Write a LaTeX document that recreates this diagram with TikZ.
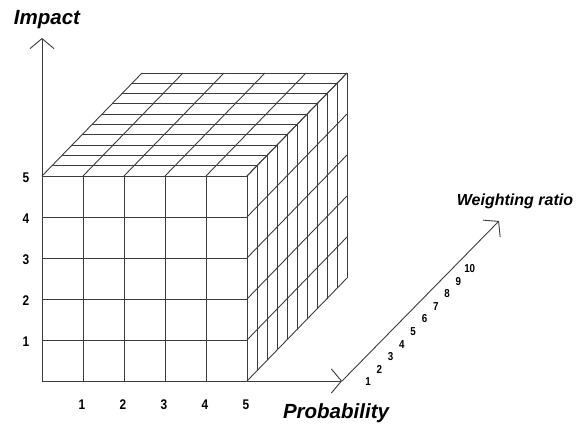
\documentclass[tikz,border=0pt]{standalone}
\usepackage{fontspec}
\usetikzlibrary{arrows.meta}
\newfontfamily\axisfont{Liberation Sans}
\newfontfamily\tickfont{Liberation Sans}[FakeStretch=0.85]
\definecolor{gridgray}{RGB}{60,60,60}
\tikzset{
  grid line/.style={draw=gridgray, line width=0.9pt},
  axis/.style={draw=gridgray, line width=0.9pt, -{Straight Barb[length=10pt,width=24pt,line width=0.9pt]}},
  axis label/.style={font=\axisfont\bfseries\itshape\fontsize{20.5}{20.5}\selectfont, inner sep=0pt},
  tick/.style={font=\tickfont\bfseries\fontsize{14}{14}\selectfont, inner sep=0pt},
  depth tick/.style={font=\tickfont\bfseries\fontsize{11.5}{11.5}\selectfont, inner sep=0pt}
}

\begin{document}
\begin{tikzpicture}[x=1pt, y=-1pt]
  \useasboundingbox (0,0) rectangle (576,425);
  % front face
  \foreach \i in {0,...,5} {
    \draw[grid line] (42+41*\i,176) -- (42+41*\i,381);
    \draw[grid line] (42,176+41*\i) -- (247,176+41*\i);
  }
  % top face
  \foreach \i in {0,...,5}
    \draw[grid line] (42+41*\i,176) -- (142+41*\i,73);
  \foreach \j in {0,...,10}
    \draw[grid line] (42+10*\j,176-10.3*\j) -- (247+10*\j,176-10.3*\j);
  % right face
  \foreach \j in {0,...,10}
    \draw[grid line] (247+10*\j,176-10.3*\j) -- (247+10*\j,381-10.3*\j);
  \foreach \i in {0,...,5}
    \draw[grid line] (247,381-41*\i) -- (347,278-41*\i);

  % axes
  \coordinate (topleft) at (42,176);
  \coordinate (impacttip) at (42,38);
  \coordinate (frontright) at (247,381);
  \coordinate (probtip) at (342,381);
  \coordinate (weighttip) at (499,221);
  \draw[axis] (topleft) -- (impacttip);
  \draw[axis] (frontright) -- (probtip);
  \draw[axis] (probtip) -- (weighttip);

  \node[axis label] (impact) at (47,20) {Impact};
  \node[axis label] (prob) at (336,413) {Probability};
  \node[axis label, font=\axisfont\bfseries\itshape\fontsize{16}{16}\selectfont] (weight) at (515,201) {Weighting ratio};

  % tick labels
  \foreach \n in {1,...,5} {
    \node[tick] (imp\n) at (26,381-41*\n+2) {\n};
    \node[tick] (pr\n) at (42+41*\n-1,405) {\n};
  }
  \foreach \n in {1,...,10}
    \node[depth tick] (wr\n) at (368+11.3*\n-11.3,382-12.6*\n+12.6) {\n};
\end{tikzpicture}
\end{document}
